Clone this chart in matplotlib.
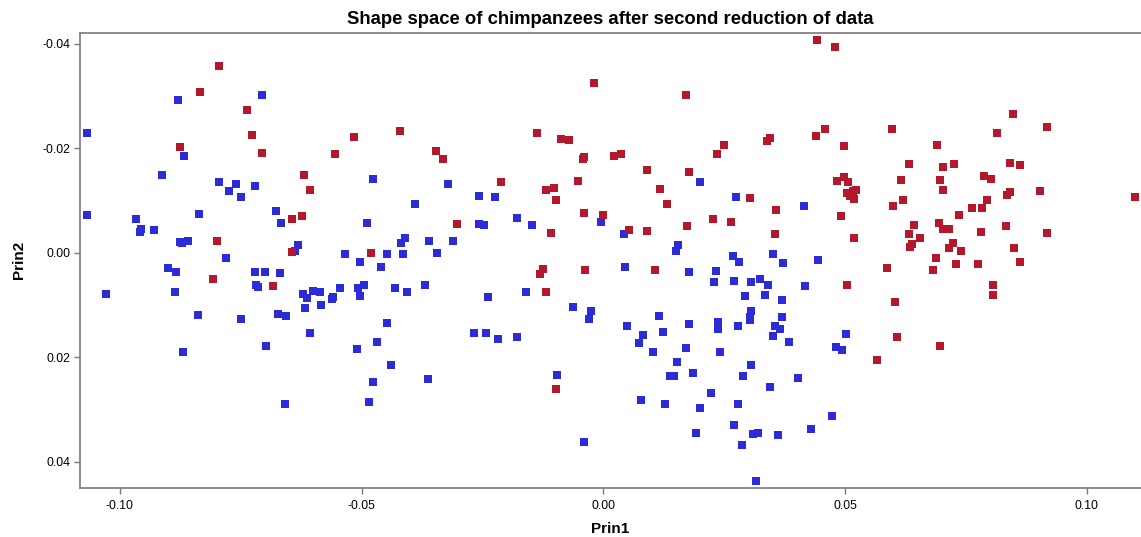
import matplotlib
matplotlib.use("Agg")
import matplotlib.pyplot as plt

plt.rcParams['font.family'] = ['Liberation Sans', 'DejaVu Sans']

title = "Shape space of chimpanzees after second reduction of data"
x_label = "Prin1"
y_label = "Prin2"
x_ticks = [-0.10, -0.05, 0.00, 0.05, 0.10]
x_tick_labels = ["-0.10", "-0.05", "0.00", "0.05", "0.10"]
y_ticks = [-0.04, -0.02, 0.00, 0.02, 0.04]
y_tick_labels = ["-0.04", "-0.02", "0.00", "0.02", "0.04"]

blue_x = [
    -0.0707, -0.0880, -0.1067, -0.0867, -0.0912, -0.0794, -0.0759, -0.0775, -0.0749, -0.0720,
    -0.1069, -0.0967, -0.0956, -0.0959, -0.0930, -0.0837, -0.0678, -0.0667, -0.0876, -0.0871,
    -0.0859, -0.0632, -0.0637, -0.0781, -0.0534,
    -0.0476, -0.0321, -0.0390, -0.0257, -0.0224, -0.0489, -0.0257, -0.0246, -0.0179, -0.0147,
    -0.0005, -0.0410, -0.0419, -0.0361, -0.0311, -0.0448, -0.0414, -0.0345, -0.0503,
    0.0200, 0.0275, 0.0415, 0.0043, 0.0155, 0.0150, 0.0269, 0.0280, 0.0350, 0.0443, 0.0372,
    -0.0900, -0.0883, -0.1028, -0.0886, -0.0839, -0.0869, -0.0720, -0.0700, -0.0668, -0.0718,
    -0.0715, -0.0749, -0.0673, -0.0656, -0.0698, -0.0658, -0.0622, -0.0612, -0.0601, -0.0586,
    -0.0617, -0.0585, -0.0559, -0.0561, -0.0544, -0.0607,
    -0.0459, -0.0508, -0.0495, -0.0503, -0.0430, -0.0406, -0.0368, -0.0447, -0.0469, -0.0510,
    -0.0440, -0.0476, -0.0362, -0.0484, -0.0239, -0.0160, -0.0062, -0.0025, -0.0030, -0.0267,
    -0.0243, -0.0218, -0.0179, -0.0095, -0.0041,
    0.0045, 0.0177, 0.0233, 0.0228, 0.0270, 0.0306, 0.0324, 0.0340, 0.0293, 0.0335,
    0.0369, 0.0418, 0.0115, 0.0048, 0.0083, 0.0073, 0.0123, 0.0102, 0.0177, 0.0237,
    0.0237, 0.0237, 0.0278, 0.0306, 0.0304, 0.0304, 0.0369, 0.0355, 0.0366, 0.0351,
    0.0383, 0.0171, 0.0242, 0.0501, 0.0482, 0.0494, 0.0152, 0.0137, 0.0146, 0.0186,
    0.0306, 0.0288, 0.0402, 0.0345, 0.0223, 0.0077, 0.0127, 0.0200, 0.0278, 0.0472,
    0.0270, 0.0192, 0.0309, 0.0319, 0.0361, 0.0429, 0.0286, 0.0315,
]
blue_y = [
    -0.0301, -0.0292, -0.0230, -0.0185, -0.0149, -0.0136, -0.0132, -0.0118, -0.0106, -0.0128,
    -0.0073, -0.0064, -0.0045, -0.0040, -0.0043, -0.0075, -0.0080, -0.0056, -0.0021, -0.0018,
    -0.0022, -0.0014, -0.0003, 0.0010, 0.0002,
    -0.0142, -0.0132, -0.0094, -0.0108, -0.0106, -0.0057, -0.0055, -0.0053, -0.0067, -0.0054,
    -0.0059, -0.0029, -0.0018, -0.0023, -0.0023, 0.0002, 0.0002, 0.0001, 0.0018,
    -0.0136, -0.0107, -0.0090, -0.0036, -0.0014, -0.0003, 0.0006, 0.0018, 0.0002, 0.0013, 0.0020,
    0.0029, 0.0036, 0.0078, 0.0076, 0.0120, 0.0189, 0.0037, 0.0037, 0.0038, 0.0061,
    0.0066, 0.0127, 0.0117, 0.0121, 0.0179, 0.0290, 0.0078, 0.0087, 0.0074, 0.0076,
    0.0105, 0.0100, 0.0084, 0.0089, 0.0067, 0.0154,
    0.0027, 0.0067, 0.0061, 0.0083, 0.0067, 0.0076, 0.0062, 0.0135, 0.0171, 0.0184,
    0.0214, 0.0247, 0.0242, 0.0285, 0.0085, 0.0076, 0.0103, 0.0111, 0.0126, 0.0153,
    0.0154, 0.0165, 0.0161, 0.0233, 0.0362,
    0.0027, 0.0037, 0.0034, 0.0056, 0.0054, 0.0056, 0.0050, 0.0062, 0.0082, 0.0080,
    0.0090, 0.0064, 0.0121, 0.0140, 0.0158, 0.0173, 0.0151, 0.0189, 0.0136, 0.0132,
    0.0139, 0.0146, 0.0140, 0.0111, 0.0122, 0.0129, 0.0123, 0.0140, 0.0145, 0.0159,
    0.0170, 0.0182, 0.0189, 0.0156, 0.0181, 0.0186, 0.0209, 0.0235, 0.0235, 0.0230,
    0.0214, 0.0235, 0.0239, 0.0257, 0.0268, 0.0281, 0.0289, 0.0297, 0.0289, 0.0312,
    0.0330, 0.0344, 0.0346, 0.0344, 0.0348, 0.0337, 0.0367, 0.0437,
]

red_x = [
    -0.0794, -0.0834, -0.0738, -0.0727, -0.0876, -0.0707, -0.0556, -0.0619, -0.0607, -0.0645,
    -0.0623, -0.0799, -0.0645,
    -0.0019, -0.0516, -0.0421, -0.0137, -0.0087, -0.0072, -0.0347, -0.0332, -0.0040, -0.0043,
    -0.0212, -0.0053, -0.0119, -0.0103, -0.0098, -0.0041, 0.0000, -0.0303, -0.0108, -0.0481,
    0.0441, 0.0479, 0.0171, 0.0458, 0.0439, 0.0339, 0.0345, 0.0250, 0.0234, 0.0498,
    0.0022, 0.0037, 0.0091, 0.0177, 0.0117, 0.0132, 0.0303, 0.0357, 0.0483, 0.0498,
    0.0506, 0.0504, 0.0510, 0.0519, 0.0523, 0.0516, 0.0491, 0.0227, 0.0264, 0.0174,
    0.0090, 0.0053, 0.0355, 0.0519,
    0.0847, 0.0596, 0.0918, 0.0814, 0.0690, 0.0632, 0.0703, 0.0726, 0.0841, 0.0861,
    0.0615, 0.0697, 0.0788, 0.0801, 0.0702, 0.0841, 0.0835, 0.0903, 0.1099, 0.0620,
    0.0599, 0.0793, 0.0763, 0.0783, 0.0735, 0.0643, 0.0694, 0.0632, 0.0702, 0.0715,
    0.0833, 0.0781, 0.0918, 0.0655, 0.0639, 0.0634, 0.0723, 0.0715, 0.0739, 0.0849,
    0.0688, 0.0861,
    0.0586, 0.0682, 0.0730, 0.0775, 0.0806, 0.0806, 0.0603, 0.0607, 0.0697, 0.0566,
    -0.0808, -0.0683,
    -0.0124, -0.0131, -0.0038, -0.0119, -0.0098,
    0.0106, 0.0504,
]
red_y = [
    -0.0357, -0.0307, -0.0274, -0.0226, -0.0203, -0.0191, -0.0189, -0.0149, -0.0120, -0.0064,
    -0.0070, -0.0022, -0.0001,
    -0.0325, -0.0221, -0.0232, -0.0229, -0.0217, -0.0215, -0.0195, -0.0180, -0.0183, -0.0179,
    -0.0136, -0.0138, -0.0120, -0.0124, -0.0101, -0.0076, -0.0073, -0.0055, -0.0037, 0.0001,
    -0.0407, -0.0394, -0.0301, -0.0237, -0.0223, -0.0213, -0.0220, -0.0206, -0.0188, -0.0205,
    -0.0185, -0.0188, -0.0159, -0.0154, -0.0122, -0.0093, -0.0105, -0.0082, -0.0138, -0.0144,
    -0.0135, -0.0114, -0.0109, -0.0102, -0.0120, -0.0119, -0.0070, -0.0064, -0.0058, -0.0051,
    -0.0042, -0.0043, -0.0036, -0.0028,
    -0.0265, -0.0237, -0.0241, -0.0230, -0.0207, -0.0170, -0.0165, -0.0170, -0.0172, -0.0168,
    -0.0140, -0.0139, -0.0147, -0.0141, -0.0121, -0.0117, -0.0110, -0.0118, -0.0106, -0.0100,
    -0.0090, -0.0100, -0.0085, -0.0085, -0.0072, -0.0054, -0.0057, -0.0036, -0.0045, -0.0045,
    -0.0052, -0.0040, -0.0038, -0.0028, -0.0016, -0.0011, -0.0018, -0.0010, -0.0003, -0.0010,
    0.0010, 0.0018,
    0.0029, 0.0033, 0.0022, 0.0022, 0.0062, 0.0081, 0.0094, 0.0161, 0.0179, 0.0205,
    0.0051, 0.0064,
    0.0031, 0.0041, 0.0033, 0.0076, 0.0260,
    0.0033, 0.0061,
]

blue_color = "#2b2bd8"
red_color = "#b3182d"
spine_color = "#7a7a7a"

fig = plt.figure(figsize=(11.41, 5.37), dpi=100)
ax = fig.add_axes([0.0699, 0.0913, 0.9301, 0.8478])

ax.scatter(blue_x, blue_y, marker="s", s=38, color=blue_color, linewidths=0, zorder=3)
ax.scatter(red_x, red_y, marker="s", s=38, color=red_color, linewidths=0, zorder=4)

ax.set_xlim(-0.1083, 0.1112)
ax.set_ylim(0.0450, -0.0421)

ax.set_xticks(x_ticks)
ax.set_xticklabels(x_tick_labels)
ax.set_yticks(y_ticks)
ax.set_yticklabels(y_tick_labels)

for side in ["left", "top", "bottom"]:
    ax.spines[side].set_color(spine_color)
    ax.spines[side].set_linewidth(1.2)
ax.spines["right"].set_visible(False)

ax.tick_params(axis="both", direction="out", length=4.2, width=1.0,
               color=spine_color, labelsize=8.8, labelcolor="black")
ax.tick_params(axis="x", pad=4.5)
ax.tick_params(axis="y", pad=2.5)

ax.set_xlabel(x_label, fontsize=11, fontweight="bold", labelpad=7.5)
ax.set_ylabel(y_label, fontsize=11, fontweight="bold", labelpad=12)
ax.set_title(title, fontsize=13.3, fontweight="bold", pad=6)

fig.savefig("out.png", dpi=100, facecolor="white")
